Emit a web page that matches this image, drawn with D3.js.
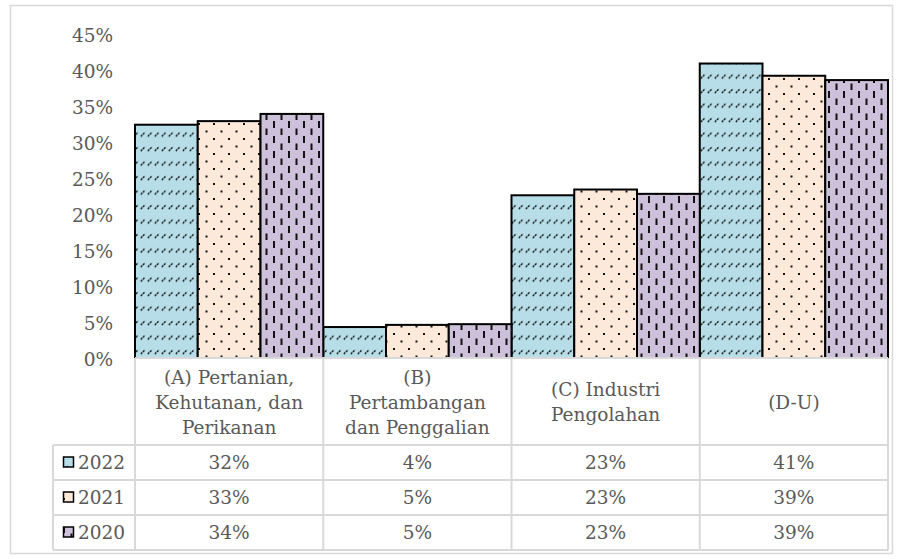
<!DOCTYPE html>
<html>
<head>
<meta charset="utf-8">
<script src="https://cdn.jsdelivr.net/npm/d3@7"></script>
<style>
  body { margin: 0; background: #fff; }
  svg text { font-family: "DejaVu Serif", serif; fill: #595959; }
</style>
</head>
<body>
<div id="chart"></div>
<script>
// data
const categories = ["(A) Pertanian,\nKehutanan, dan\nPerikanan", "(B)\nPertambangan\ndan Penggalian", "(C) Industri\nPengolahan", "(D-U)"];
const seriesNames = ["2022", "2021", "2020"];
const values2022 = [0.324, 0.043, 0.226, 0.409];
const values2021 = [0.329, 0.046, 0.234, 0.392];
const values2020 = [0.339, 0.047, 0.228, 0.386];
const yTicks = [0, 0.05, 0.10, 0.15, 0.20, 0.25, 0.30, 0.35, 0.40, 0.45];

const seriesValues = [values2022, values2021, values2020];

const W = 904, H = 559;
const plotLeft = 135, plotRight = 888, plotTop = 34, base = 358;
const tableLeft = 53;
const rowTops = [445, 480, 515, 550];
const fontSize = 18.5;
const gridColor = "#d9d9d9";

const svg = d3.select("#chart").append("svg")
  .attr("width", W).attr("height", H);

/* patterns */
const defs = svg.append("defs");

const p1 = defs.append("pattern").attr("id", "pat2022")
  .attr("patternUnits", "userSpaceOnUse").attr("width", 7).attr("height", 14.5);
p1.append("rect").attr("width", 7).attr("height", 14.5).attr("fill", "#b7dee8");
p1.append("line").attr("x1", 0.8).attr("y1", 6).attr("x2", 5.2).attr("y2", 1.6)
  .attr("stroke", "#111").attr("stroke-width", 1.4).attr("stroke-dasharray", "2.2 0.8");

const p2 = defs.append("pattern").attr("id", "pat2021")
  .attr("patternUnits", "userSpaceOnUse").attr("width", 15).attr("height", 15);
p2.append("rect").attr("width", 15).attr("height", 15).attr("fill", "#fde9d9");
p2.append("rect").attr("x", 3).attr("y", 3).attr("width", 2).attr("height", 2).attr("fill", "#111");
p2.append("rect").attr("x", 10.5).attr("y", 10.5).attr("width", 2).attr("height", 2).attr("fill", "#111");

const p3 = defs.append("pattern").attr("id", "pat2020")
  .attr("patternUnits", "userSpaceOnUse").attr("width", 15).attr("height", 15);
p3.append("rect").attr("width", 15).attr("height", 15).attr("fill", "#ccc0da");
p3.append("rect").attr("x", 3).attr("y", 1).attr("width", 2).attr("height", 7).attr("fill", "#111");
p3.append("rect").attr("x", 10.5).attr("y", 8.5).attr("width", 2).attr("height", 7).attr("fill", "#111");

const fills = ["url(#pat2022)", "url(#pat2021)", "url(#pat2020)"];

/* outer frame */
svg.append("rect")
  .attr("x", 10.5).attr("y", 5.5).attr("width", 882).attr("height", 548)
  .attr("fill", "none").attr("stroke", gridColor).attr("stroke-width", 1.5);

/* scales */
const x = d3.scaleBand().domain(categories).range([plotLeft, plotRight]).padding(0);
const xs = d3.scaleBand().domain(seriesNames).range([0, x.bandwidth()]).padding(0);
const y = d3.scaleLinear().domain([0, 0.45]).range([base, plotTop]);
const pct = d3.format(".0%");

/* y axis */
const yAxis = svg.append("g")
  .attr("transform", `translate(${plotLeft - 12},1.5)`)
  .call(d3.axisLeft(y).tickValues(yTicks).tickFormat(pct).tickSize(0).tickPadding(10));
yAxis.select(".domain").remove();
yAxis.selectAll("text")
  .attr("font-size", fontSize)
  .attr("font-family", "DejaVu Serif")
  .attr("fill", "#595959");

/* bars */
seriesNames.forEach((s, si) => {
  svg.append("g")
    .selectAll("rect")
    .data(categories.map((c, ci) => ({ c, v: seriesValues[si][ci] })))
    .join("rect")
    .attr("x", d => x(d.c) + xs(s))
    .attr("y", d => y(d.v))
    .attr("width", xs.bandwidth())
    .attr("height", d => base - y(d.v))
    .attr("fill", fills[si])
    .attr("stroke", "#000")
    .attr("stroke-width", 2);
});

/* data table lines */
const grid = svg.append("g").attr("stroke", gridColor).attr("stroke-width", 2).attr("fill", "none");
grid.append("line").attr("x1", plotLeft).attr("x2", plotRight).attr("y1", base).attr("y2", base);
rowTops.forEach(r => {
  grid.append("line").attr("x1", tableLeft).attr("x2", plotRight).attr("y1", r).attr("y2", r);
});
grid.append("line").attr("x1", tableLeft).attr("x2", tableLeft).attr("y1", rowTops[0]).attr("y2", rowTops[3]);
categories.forEach(c => {
  grid.append("line").attr("x1", x(c)).attr("x2", x(c)).attr("y1", base).attr("y2", rowTops[3]);
});
grid.append("line").attr("x1", plotRight).attr("x2", plotRight).attr("y1", base).attr("y2", rowTops[3]);

/* category labels */
const lineH = 25;
const headMid = (base + rowTops[0]) / 2 + 1;
categories.forEach(c => {
  const lines = c.split("\n");
  const t = svg.append("text")
    .attr("text-anchor", "middle")
    .attr("font-size", fontSize);
  lines.forEach((ln, i) => {
    t.append("tspan")
      .attr("x", x(c) + x.bandwidth() / 2)
      .attr("y", headMid + (i - (lines.length - 1) / 2) * lineH)
      .attr("dy", "0.35em")
      .text(ln);
  });
});

/* table rows */
seriesNames.forEach((s, si) => {
  const mid = (rowTops[si] + rowTops[si + 1]) / 2;
  svg.append("rect")
    .attr("x", 63.5).attr("y", mid - 5.5)
    .attr("width", 10).attr("height", 10)
    .attr("fill", fills[si])
    .attr("stroke", "#000").attr("stroke-width", 1.5);
  svg.append("text")
    .attr("x", 78).attr("y", mid).attr("dy", "0.35em")
    .attr("font-size", fontSize)
    .text(s);
  categories.forEach((c, ci) => {
    svg.append("text")
      .attr("x", x(c) + x.bandwidth() / 2)
      .attr("y", mid).attr("dy", "0.35em")
      .attr("text-anchor", "middle")
      .attr("font-size", fontSize)
      .text(pct(seriesValues[si][ci]));
  });
});
</script>
</body>
</html>
